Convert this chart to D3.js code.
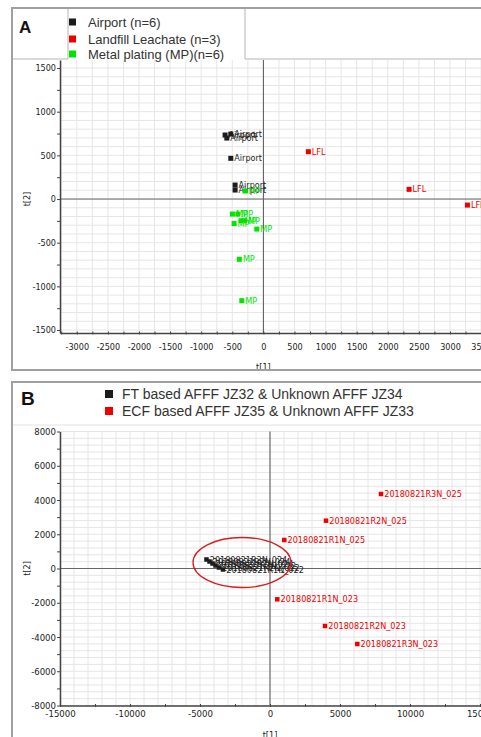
<!DOCTYPE html>
<html>
<head>
<meta charset="utf-8">
<script src="https://d3js.org/d3.v7.min.js"></script>
<style>
  * { margin: 0; padding: 0; }
  body { background: #fff; width: 481px; height: 737px; overflow: hidden; }
  svg { display: block; }
  .narrow, .tick text { font-family: "Liberation Sans Narrow", "DejaVu Sans Condensed", "DejaVu Sans", sans-serif; font-stretch: condensed; }
  .tick text { fill: #222; }
</style>
</head>
<body>
<svg id="chart" width="481" height="737"></svg>
<script>
// ---- panel A : scores t[1] / t[2]
const airportX = [-616, -588, -524, -524, -455, -455];
const airportY = [733, 698, 744, 466, 160, 103];
const leachateX = [723, 2342, 3280];
const leachateY = [542, 111, -69];
const platingX = [-294, -498, -412, -358, -305, -471, -106, -386, -347];
const platingY = [92, -172, -172, -248, -248, -281, -344, -690, -1164];
const legendA = ["Airport (n=6)", "Landfill Leachate (n=3)", "Metal plating (MP)(n=6)"];
const ticksAX = [-3000, -2500, -2000, -1500, -1000, -500, 0, 500, 1000, 1500, 2000, 2500, 3000, 3500];
const ticksAY = [-1500, -1000, -500, 0, 500, 1000, 1500];

// ---- panel B
const ftX = [-4536, -4321, -4107, -3893, -3643, -3357];
const ftY = [526, 409, 292, 175, 58, -58];
const ftNames = ["20180821R3N_024", "20180821R2N_024", "20180821R1N_024",
                 "20180821R3N_022", "20180821R2N_022", "20180821R1N_022"];
const ecfX = [7929, 4000, 1021, 521, 3929, 6236];
const ecfY = [4350, 2791, 1664, -1799, -3358, -4409];
const ecfNames = ["20180821R3N_025", "20180821R2N_025", "20180821R1N_025",
                  "20180821R1N_023", "20180821R2N_023", "20180821R3N_023"];
const legendB = ["FT based AFFF JZ32 & Unknown AFFF JZ34", "ECF based AFFF JZ35 & Unknown AFFF JZ33"];
const ticksBX = [-15000, -10000, -5000, 0, 5000, 10000, 15000];
const ticksBY = [-8000, -6000, -4000, -2000, 0, 2000, 4000, 6000, 8000];
// circled cluster: centre and radii in score units
const ringB = [-2000, 350, 3500, 1460];

const BLACK = "#1c1c1c", RED = "#ee0000", GREEN = "#00e400";
const plain = d => String(d);   // hyphen minus, no thousands comma

const svg = d3.select("#chart");

function zip(xs, ys, names) {
  return xs.map((x, i) => ({ x: x, y: ys[i], name: names ? names[i] : null }));
}

function scorePlot(g, o) {
  const x = o.x, y = o.y;
  const x0 = x.range()[0], x1 = 481, y0 = y.range()[1], y1 = y.range()[0];

  // grid
  g.append("g").selectAll("line").data(d3.range(o.gridX[0], o.gridX[1] + 1, o.gridX[2]))
    .join("line")
    .attr("x1", d => x(d)).attr("x2", d => x(d))
    .attr("y1", y0).attr("y2", y1)
    .attr("stroke", "#e6e6e6").attr("stroke-width", 1);
  g.append("g").selectAll("line").data(d3.range(o.gridY[0], o.gridY[1] + 1, o.gridY[2]))
    .join("line")
    .attr("x1", x0).attr("x2", x1)
    .attr("y1", d => y(d)).attr("y2", d => y(d))
    .attr("stroke", "#e6e6e6").attr("stroke-width", 1);

  // zero lines
  g.append("line").attr("x1", x(0)).attr("x2", x(0)).attr("y1", y0).attr("y2", y1)
    .attr("stroke", "#555").attr("stroke-width", 1);
  g.append("line").attr("x1", x0).attr("x2", x1).attr("y1", y(0)).attr("y2", y(0))
    .attr("stroke", "#666").attr("stroke-width", 1);

  // minor ticks
  g.append("g").attr("transform", "translate(0," + y1 + ")")
    .call(d3.axisBottom(x).tickValues(o.minorX).tickSize(3).tickFormat(""))
    .call(a => a.select(".domain").remove())
    .selectAll("line").attr("stroke", "#444").attr("transform", "translate(0,-1.5)");
  g.append("g").attr("transform", "translate(" + x0 + ",0)")
    .call(d3.axisLeft(y).tickValues(o.minorY).tickSize(3).tickFormat(""))
    .call(a => a.select(".domain").remove())
    .selectAll("line").attr("stroke", "#444");

  // axes
  const ax = g.append("g").attr("transform", "translate(0," + y1 + ")")
    .call(d3.axisBottom(x).tickValues(o.ticksX).tickFormat(plain).tickSize(3).tickSizeOuter(0).tickPadding(o.padX));
  ax.select(".domain").attr("stroke", "#444").attr("stroke-width", 1.5);
  ax.selectAll(".tick line").attr("stroke", "#444").attr("transform", "translate(0,-1.5)");
  ax.selectAll("text").attr("font-size", o.tickFont);

  const ay = g.append("g").attr("transform", "translate(" + x0 + ",0)")
    .call(d3.axisLeft(y).tickValues(o.ticksY).tickFormat(plain).tickSize(3).tickSizeOuter(0).tickPadding(1));
  ay.select(".domain").attr("stroke", "#444").attr("stroke-width", 1.5);
  ay.selectAll(".tick line").attr("stroke", "#444");
  ay.selectAll("text").attr("font-size", o.tickFont);

  // axis titles
  g.append("text").attr("class", "narrow")
    .attr("x", x(0)).attr("y", o.xTitleY).attr("text-anchor", "middle")
    .attr("font-size", 9).attr("fill", "#222").text("t[1]");
  g.append("text").attr("class", "narrow")
    .attr("transform", "translate(" + o.yTitleX + "," + y(0) + ") rotate(-90)")
    .attr("text-anchor", "middle").attr("font-size", 9).attr("fill", "#222").text("t[2]");

  // points
  o.series.forEach(s => {
    const pts = g.append("g");
    pts.selectAll("rect").data(s.data).join("rect")
      .attr("x", d => x(d.x) - o.sq / 2).attr("y", d => y(d.y) - o.sq / 2)
      .attr("width", o.sq).attr("height", o.sq).attr("fill", s.color);
    pts.selectAll("text").data(s.data).join("text").attr("class", "narrow")
      .attr("x", d => x(d.x) + o.sq / 2 + 1).attr("y", d => y(d.y)).attr("dy", "0.35em")
      .attr("font-size", o.labelFont).attr("fill", s.color)
      .text(d => d.name || s.label);
  });
}

// ================= panel A
const gA = svg.append("g");
const xA = d3.scaleLinear().domain([-3270, 3540]).range([60, 60 + 6810 * 0.0622]);
const yA = d3.scaleLinear().domain([-1534, 1592]).range([333, 60]);

scorePlot(gA, {
  x: xA, y: yA,
  gridX: [-3250, 3500, 250], gridY: [-1500, 1500, 100],
  minorX: d3.range(-3250, 3501, 250).filter(v => v % 500 !== 0),
  minorY: d3.range(-1250, 1251, 500),
  ticksX: ticksAX, ticksY: ticksAY, padX: 8, tickFont: 9,
  xTitleY: 370, yTitleX: 30, sq: 5, labelFont: 9,
  series: [
    { data: zip(airportX, airportY), color: BLACK, label: "Airport" },
    { data: zip(leachateX, leachateY), color: RED, label: "LFL" },
    { data: zip(platingX, platingY), color: GREEN, label: "MP" }
  ]
});

// frame + header of A
gA.append("rect").attr("x", 68).attr("y", 8).attr("width", 177).attr("height", 52).attr("fill", "#fff");
gA.append("path").attr("d", "M12,59H68M245,59H481M68,8V59M245,8V59").attr("stroke", "#b5b5b5").attr("fill", "none");
gA.append("path").attr("d", "M481,8H12V370H481").attr("stroke", "#a0a0a0").attr("stroke-width", 2).attr("fill", "none");
gA.append("text").attr("x", 19).attr("y", 33).attr("font-family", "Liberation Sans, Arial, sans-serif")
  .attr("font-weight", "bold").attr("font-size", 17).attr("fill", "#111").text("A");
const legA = gA.append("g").selectAll("g").data(legendA).join("g")
  .attr("transform", (d, i) => "translate(69," + [22, 39, 54][i] + ")");
legA.append("rect").attr("x", 0).attr("y", -3.5).attr("width", 7).attr("height", 7)
  .attr("fill", (d, i) => [BLACK, RED, GREEN][i]);
legA.append("text").attr("x", 19).attr("dy", "0.35em").attr("font-family", "Liberation Sans, Arial, sans-serif")
  .attr("font-size", 13).attr("fill", "#333").text(d => d);

// ================= panel B
const gB = svg.append("g");
const xB = d3.scaleLinear().domain([-15000, 15500]).range([60, 60 + 30500 * 0.014]);
const yB = d3.scaleLinear().domain([-8000, 8000]).range([705.5, 431.5]);

scorePlot(gB, {
  x: xB, y: yB,
  gridX: [-15000, 15000, 1000], gridY: [-8000, 8000, 400],
  minorX: d3.range(-12500, 15001, 5000),
  minorY: d3.range(-7000, 7001, 2000),
  ticksX: ticksBX, ticksY: ticksBY, padX: 2, tickFont: 9.5,
  xTitleY: 738, yTitleX: 30, sq: 4.5, labelFont: 9,
  series: [
    { data: zip(ftX, ftY, ftNames), color: BLACK },
    { data: zip(ecfX, ecfY, ecfNames), color: RED }
  ]
});

gB.append("ellipse")
  .attr("cx", xB(ringB[0])).attr("cy", yB(ringB[1]))
  .attr("rx", xB(ringB[2]) - xB(0)).attr("ry", yB(0) - yB(ringB[3]))
  .attr("fill", "none").attr("stroke", "#d91c1c").attr("stroke-width", 1.3);

gB.append("rect").attr("x", 12).attr("y", 382).attr("width", 469).attr("height", 43).attr("fill", "#fff");
gB.append("path").attr("d", "M12,425H481").attr("stroke", "#e2e2e2").attr("fill", "none");
gB.append("path").attr("d", "M481,382H12V737").attr("stroke", "#a0a0a0").attr("stroke-width", 2).attr("fill", "none");
gB.append("text").attr("x", 21).attr("y", 405).attr("font-family", "Liberation Sans, Arial, sans-serif")
  .attr("font-weight", "bold").attr("font-size", 19).attr("fill", "#111").text("B");
const legB = gB.append("g").selectAll("g").data(legendB).join("g")
  .attr("transform", (d, i) => "translate(105," + [394, 411][i] + ")");
legB.append("rect").attr("x", 0).attr("y", -4).attr("width", 8).attr("height", 8)
  .attr("fill", (d, i) => [BLACK, RED][i]);
legB.append("text").attr("x", 17).attr("dy", "0.35em").attr("font-family", "Liberation Sans, Arial, sans-serif")
  .attr("font-size", 14).attr("fill", "#333").text(d => d);
</script>
</body>
</html>
